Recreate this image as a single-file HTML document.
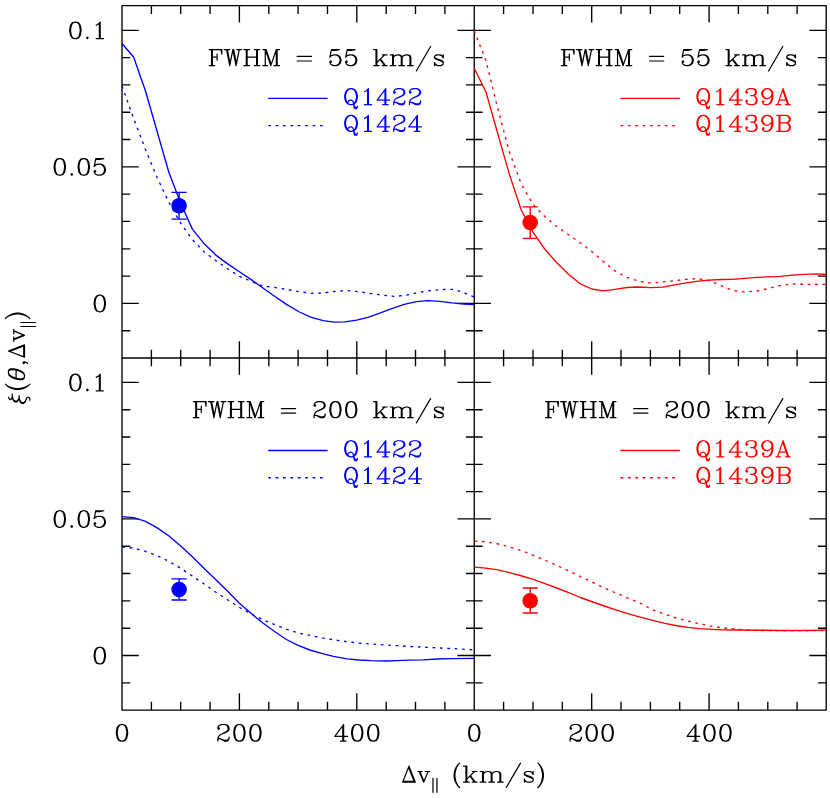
<!DOCTYPE html>
<html lang="en"><head><meta charset="utf-8"><title>Correlation function vs velocity separation</title>
<style>html,body{margin:0;padding:0;background:#fff;font-family:"Liberation Serif",serif;}svg{display:block;}</style></head><body>
<svg width="830" height="798" viewBox="0 0 830 798" role="img" aria-label="Four-panel plot of xi(theta, Delta v parallel) versus Delta v parallel (km/s)">
<desc>Panels: FWHM = 55 km/s (top) and FWHM = 200 km/s (bottom); blue Q1422 solid, Q1424 dotted; red Q1439A solid, Q1439B dotted. Y ticks 0, 0.05, 0.1; X ticks 0, 200, 400. X label: Delta v_parallel (km/s). Y label: xi(theta, Delta v_parallel).</desc>
<rect width="830" height="798" fill="#fff"/>
<path d="M122.0,5.65H826.2V710.1H122.0ZM474.25,5.65V710.1M122.0,358.0H826.2M151.4,5.65v8.3M151.4,349.7v16.6M151.4,710.1v-8.3M180.7,5.65v8.3M180.7,349.7v16.6M180.7,710.1v-8.3M210.1,5.65v8.3M210.1,349.7v16.6M210.1,710.1v-8.3M239.4,5.65v16.8M239.4,341.2v33.6M239.4,710.1v-16.8M268.8,5.65v8.3M268.8,349.7v16.6M268.8,710.1v-8.3M298.1,5.65v8.3M298.1,349.7v16.6M298.1,710.1v-8.3M327.5,5.65v8.3M327.5,349.7v16.6M327.5,710.1v-8.3M356.8,5.65v16.8M356.8,341.2v33.6M356.8,710.1v-16.8M386.2,5.65v8.3M386.2,349.7v16.6M386.2,710.1v-8.3M415.5,5.65v8.3M415.5,349.7v16.6M415.5,710.1v-8.3M444.9,5.65v8.3M444.9,349.7v16.6M444.9,710.1v-8.3M503.6,5.65v8.3M503.6,349.7v16.6M503.6,710.1v-8.3M533.0,5.65v8.3M533.0,349.7v16.6M533.0,710.1v-8.3M562.3,5.65v8.3M562.3,349.7v16.6M562.3,710.1v-8.3M591.7,5.65v16.8M591.7,341.2v33.6M591.7,710.1v-16.8M621.0,5.65v8.3M621.0,349.7v16.6M621.0,710.1v-8.3M650.4,5.65v8.3M650.4,349.7v16.6M650.4,710.1v-8.3M679.7,5.65v8.3M679.7,349.7v16.6M679.7,710.1v-8.3M709.1,5.65v16.8M709.1,341.2v33.6M709.1,710.1v-16.8M738.4,5.65v8.3M738.4,349.7v16.6M738.4,710.1v-8.3M767.8,5.65v8.3M767.8,349.7v16.6M767.8,710.1v-8.3M797.1,5.65v8.3M797.1,349.7v16.6M797.1,710.1v-8.3M122.0,330.7h8.3M465.95,330.7h16.6M826.2,330.7h-8.3M122.0,303.4h16.8M457.45,303.4h33.6M826.2,303.4h-16.8M122.0,276.1h8.3M465.95,276.1h16.6M826.2,276.1h-8.3M122.0,248.8h8.3M465.95,248.8h16.6M826.2,248.8h-8.3M122.0,221.4h8.3M465.95,221.4h16.6M826.2,221.4h-8.3M122.0,194.1h8.3M465.95,194.1h16.6M826.2,194.1h-8.3M122.0,166.8h16.8M457.45,166.8h33.6M826.2,166.8h-16.8M122.0,139.5h8.3M465.95,139.5h16.6M826.2,139.5h-8.3M122.0,112.2h8.3M465.95,112.2h16.6M826.2,112.2h-8.3M122.0,84.9h8.3M465.95,84.9h16.6M826.2,84.9h-8.3M122.0,57.6h8.3M465.95,57.6h16.6M826.2,57.6h-8.3M122.0,30.3h16.8M457.45,30.3h33.6M826.2,30.3h-16.8M122.0,682.8h8.3M465.95,682.8h16.6M826.2,682.8h-8.3M122.0,655.5h16.8M457.45,655.5h33.6M826.2,655.5h-16.8M122.0,628.2h8.3M465.95,628.2h16.6M826.2,628.2h-8.3M122.0,600.9h8.3M465.95,600.9h16.6M826.2,600.9h-8.3M122.0,573.5h8.3M465.95,573.5h16.6M826.2,573.5h-8.3M122.0,546.2h8.3M465.95,546.2h16.6M826.2,546.2h-8.3M122.0,518.9h16.8M457.45,518.9h33.6M826.2,518.9h-16.8M122.0,491.6h8.3M465.95,491.6h16.6M826.2,491.6h-8.3M122.0,464.3h8.3M465.95,464.3h16.6M826.2,464.3h-8.3M122.0,437.0h8.3M465.95,437.0h16.6M826.2,437.0h-8.3M122.0,409.7h8.3M465.95,409.7h16.6M826.2,409.7h-8.3M122.0,382.4h16.8M457.45,382.4h33.6M826.2,382.4h-16.8" fill="none" stroke="#000" stroke-width="1.35" stroke-linecap="butt" stroke-linejoin="round"/>
<polyline points="122.0,43.5 133.6,57.0 145.5,91.0 157.2,131.7 169.0,172.7 180.7,203.2 192.4,229.1 204.2,243.8 215.9,255.1 227.7,263.9 239.4,271.7 251.2,279.6 262.9,288.0 274.6,296.2 286.5,304.4 299.4,312.0 311.4,317.4 323.3,320.7 334.0,322.1 344.8,321.9 356.7,320.2 368.6,317.1 380.5,312.9 392.4,308.3 404.3,304.3 416.2,301.7 428.1,300.7 440.0,301.4 451.9,302.9 463.8,304.0 474.0,304.5" fill="none" stroke="#0000ff" stroke-width="1.35" stroke-linejoin="round"/>
<polyline points="122.0,86.0 133.7,118.5 145.5,149.6 157.2,177.7 169.0,202.6 180.7,223.2 192.4,239.7 204.2,251.9 215.9,260.6 227.7,268.8 239.4,276.3 251.2,281.4 262.9,286.0 274.6,287.4 290.0,290.0 299.5,291.7 311.4,293.3 323.3,292.9 335.2,291.4 347.1,290.5 359.0,291.7 371.0,293.6 382.9,295.2 394.8,296.4 406.7,295.2 418.6,292.4 430.5,290.5 442.4,289.5 451.9,289.3 461.4,291.7 474.0,296.9" fill="none" stroke="#0000ff" stroke-width="1.35" stroke-dasharray="2.7 4.7" stroke-linejoin="round"/>
<polyline points="474.2,68.2 485.9,91.8 497.7,133.5 509.5,174.6 521.2,210.0 533.0,232.1 544.7,249.0 556.4,262.2 568.2,274.0 579.9,283.6 591.7,289.0 603.4,290.9 615.1,289.3 626.9,287.5 638.6,287.0 650.7,287.6 662.6,287.1 674.5,284.8 686.4,282.9 698.3,281.2 709.0,280.2 721.0,279.5 732.9,279.3 744.8,278.3 756.7,277.4 768.6,276.9 780.5,276.4 792.4,275.2 804.3,274.3 816.2,273.8 826.0,274.5" fill="none" stroke="#ff0000" stroke-width="1.35" stroke-linejoin="round"/>
<polyline points="474.2,30.6 485.9,60.6 497.7,108.1 509.5,152.3 521.2,183.8 533.0,204.4 544.7,216.5 556.4,226.3 568.2,234.5 579.9,242.5 591.7,251.4 603.4,261.6 615.1,271.0 626.9,277.4 638.6,281.2 650.7,283.1 662.6,281.9 674.5,280.7 686.4,279.3 697.1,278.6 709.0,280.5 721.0,285.7 732.9,290.5 743.6,291.9 755.5,291.2 767.4,288.8 779.3,285.7 791.2,284.0 804.3,284.3 816.2,284.5 826.0,284.3" fill="none" stroke="#ff0000" stroke-width="1.35" stroke-dasharray="2.7 4.7" stroke-linejoin="round"/>
<polyline points="122.0,516.7 133.7,517.7 145.5,521.4 157.2,527.9 169.0,536.0 180.7,545.9 192.4,556.8 204.2,568.5 215.9,579.8 227.7,591.3 239.4,603.2 251.2,613.5 262.9,623.0 274.6,631.5 286.4,639.5 298.1,645.4 309.9,650.0 321.6,653.3 333.4,656.4 347.1,658.8 359.0,660.0 371.0,660.7 385.2,661.0 397.1,660.7 409.0,660.2 423.3,659.8 437.6,659.0 451.9,658.6 474.0,658.3" fill="none" stroke="#0000ff" stroke-width="1.35" stroke-linejoin="round"/>
<polyline points="122.3,547.2 133.5,548.1 144.8,551.1 157.2,555.6 168.5,561.2 180.9,568.4 192.2,575.9 204.6,584.4 215.9,592.3 228.3,600.2 239.6,607.5 252.0,614.2 263.2,619.9 275.7,625.0 286.9,629.3 299.5,633.3 311.4,635.7 323.3,638.1 335.2,640.0 347.1,641.7 359.0,643.1 371.0,644.0 385.2,645.0 397.1,645.7 409.0,646.4 423.3,647.1 437.6,647.9 451.9,648.6 474.0,649.8" fill="none" stroke="#0000ff" stroke-width="1.35" stroke-dasharray="2.7 4.7" stroke-linejoin="round"/>
<polyline points="474.5,567.2 485.8,568.1 498.2,569.9 509.5,572.6 521.9,576.0 533.2,579.4 545.6,583.9 556.8,588.0 569.3,592.9 580.5,597.5 592.9,602.0 604.2,606.0 616.6,610.1 627.9,613.7 639.2,616.9 651.9,620.2 663.8,623.1 675.7,625.5 687.6,627.4 699.5,628.6 711.4,629.3 723.3,629.8 735.2,630.0 759.0,630.2 782.9,630.5 806.7,630.5 826.0,630.2" fill="none" stroke="#ff0000" stroke-width="1.35" stroke-linejoin="round"/>
<polyline points="474.5,541.1 485.8,541.7 498.2,544.0 509.5,546.9 521.9,550.8 533.2,555.3 545.6,560.5 556.8,565.4 569.3,571.1 580.5,576.7 592.9,582.3 604.2,588.0 616.6,593.2 627.9,598.1 639.2,602.6 651.9,609.5 663.8,613.8 675.7,617.9 687.6,621.0 699.5,623.8 711.4,626.2 723.3,627.9 735.2,629.0 747.1,630.0 759.0,630.5 782.9,630.7 826.0,630.5" fill="none" stroke="#ff0000" stroke-width="1.35" stroke-dasharray="2.7 4.7" stroke-linejoin="round"/>
<path d="M179.1,192.3V219.1M171.5,192.3H186.7M171.5,219.1H186.7" stroke="#0000ff" stroke-width="1.35" fill="none"/>
<circle cx="179.1" cy="205.8" r="7.75" fill="#0000ff"/>
<path d="M530.2,206.9V238.3M522.6,206.9H537.8000000000001M522.6,238.3H537.8000000000001" stroke="#ff0000" stroke-width="1.35" fill="none"/>
<circle cx="530.2" cy="222.5" r="7.75" fill="#ff0000"/>
<path d="M179.1,578.8V600.0M171.5,578.8H186.7M171.5,600.0H186.7" stroke="#0000ff" stroke-width="1.35" fill="none"/>
<circle cx="179.1" cy="589.4" r="7.75" fill="#0000ff"/>
<path d="M530.2,588.0V613.0M522.6,588.0H537.8000000000001M522.6,613.0H537.8000000000001" stroke="#ff0000" stroke-width="1.35" fill="none"/>
<circle cx="530.2" cy="600.8" r="7.75" fill="#ff0000"/>
<path d="M268.2,98.4H327.6" stroke="#0000ff" stroke-width="1.35"/>
<path d="M268.2,125.6H327.0" stroke="#0000ff" stroke-width="1.35" stroke-dasharray="2.7 4.7"/>
<path d="M350.24,88.64 347.87,89.40 346.29,90.93 345.50,92.46 344.71,95.52 344.71,97.81 345.50,100.88 346.29,102.41 347.87,103.94 350.24,104.70 351.82,104.70 354.19,103.94 355.77,102.41 356.56,100.88 357.35,97.81 357.35,95.52 356.56,92.46 355.77,90.93 354.19,89.40 351.82,88.64 350.24,88.64M350.24,88.64 348.66,89.40 347.08,90.93 346.29,92.46 345.50,95.52 345.50,97.81 346.29,100.88 347.08,102.41 348.66,103.94 350.24,104.70M351.82,104.70 353.40,103.94 354.98,102.41 355.77,100.88 356.56,97.81 356.56,95.52 355.77,92.46 354.98,90.93 353.40,89.40 351.82,88.64M347.87,103.17 347.87,102.41 348.66,100.88 350.24,100.11 351.03,100.11 352.61,100.88 353.40,102.41 354.19,107.76 354.98,108.53 356.56,108.53 357.35,107.00 357.35,106.23M353.40,102.41 354.19,105.47 354.98,107.00 355.77,107.76 356.56,107.76 357.35,107.00M364.46,91.70 366.04,90.93 368.41,88.64 368.41,104.70M367.62,89.40 367.62,104.70M364.46,104.70 371.57,104.70M385.00,90.17 385.00,104.70M385.79,88.64 385.79,104.70M385.79,88.64 377.10,100.11 389.74,100.11M382.63,104.70 388.16,104.70M394.48,91.70 395.27,92.46 394.48,93.23 393.69,92.46 393.69,91.70 394.48,90.17 395.27,89.40 397.64,88.64 400.80,88.64 403.17,89.40 403.96,90.17 404.75,91.70 404.75,93.23 403.96,94.75 401.59,96.28 397.64,97.81 396.06,98.58 394.48,100.11 393.69,102.41 393.69,104.70M400.80,88.64 402.38,89.40 403.17,90.17 403.96,91.70 403.96,93.23 403.17,94.75 400.80,96.28 397.64,97.81M393.69,103.17 394.48,102.41 396.06,102.41 400.01,103.94 402.38,103.94 403.96,103.17 404.75,102.41M396.06,102.41 400.01,104.70 403.17,104.70 403.96,103.94 404.75,102.41 404.75,100.88M410.28,91.70 411.07,92.46 410.28,93.23 409.49,92.46 409.49,91.70 410.28,90.17 411.07,89.40 413.44,88.64 416.60,88.64 418.97,89.40 419.76,90.17 420.55,91.70 420.55,93.23 419.76,94.75 417.39,96.28 413.44,97.81 411.86,98.58 410.28,100.11 409.49,102.41 409.49,104.70M416.60,88.64 418.18,89.40 418.97,90.17 419.76,91.70 419.76,93.23 418.97,94.75 416.60,96.28 413.44,97.81M409.49,103.17 410.28,102.41 411.86,102.41 415.81,103.94 418.18,103.94 419.76,103.17 420.55,102.41M411.86,102.41 415.81,104.70 418.97,104.70 419.76,103.94 420.55,102.41 420.55,100.88" fill="none" stroke="#0000ff" stroke-width="1.22" stroke-linecap="round" stroke-linejoin="round"/>
<path d="M350.24,115.34 347.87,116.10 346.29,117.63 345.50,119.16 344.71,122.22 344.71,124.52 345.50,127.58 346.29,129.11 347.87,130.64 350.24,131.40 351.82,131.40 354.19,130.64 355.77,129.11 356.56,127.58 357.35,124.52 357.35,122.22 356.56,119.16 355.77,117.63 354.19,116.10 351.82,115.34 350.24,115.34M350.24,115.34 348.66,116.10 347.08,117.63 346.29,119.16 345.50,122.22 345.50,124.52 346.29,127.58 347.08,129.11 348.66,130.64 350.24,131.40M351.82,131.40 353.40,130.64 354.98,129.11 355.77,127.58 356.56,124.52 356.56,122.22 355.77,119.16 354.98,117.63 353.40,116.10 351.82,115.34M347.87,129.87 347.87,129.11 348.66,127.58 350.24,126.81 351.03,126.81 352.61,127.58 353.40,129.11 354.19,134.46 354.98,135.22 356.56,135.22 357.35,133.69 357.35,132.93M353.40,129.11 354.19,132.16 354.98,133.69 355.77,134.46 356.56,134.46 357.35,133.69M364.46,118.40 366.04,117.63 368.41,115.34 368.41,131.40M367.62,116.10 367.62,131.40M364.46,131.40 371.57,131.40M385.00,116.87 385.00,131.40M385.79,115.34 385.79,131.40M385.79,115.34 377.10,126.81 389.74,126.81M382.63,131.40 388.16,131.40M394.48,118.40 395.27,119.16 394.48,119.93 393.69,119.16 393.69,118.40 394.48,116.87 395.27,116.10 397.64,115.34 400.80,115.34 403.17,116.10 403.96,116.87 404.75,118.40 404.75,119.93 403.96,121.46 401.59,122.98 397.64,124.52 396.06,125.28 394.48,126.81 393.69,129.11 393.69,131.40M400.80,115.34 402.38,116.10 403.17,116.87 403.96,118.40 403.96,119.93 403.17,121.46 400.80,122.98 397.64,124.52M393.69,129.87 394.48,129.11 396.06,129.11 400.01,130.64 402.38,130.64 403.96,129.87 404.75,129.11M396.06,129.11 400.01,131.40 403.17,131.40 403.96,130.64 404.75,129.11 404.75,127.58M416.60,116.87 416.60,131.40M417.39,115.34 417.39,131.40M417.39,115.34 408.70,126.81 421.34,126.81M414.23,131.40 419.76,131.40" fill="none" stroke="#0000ff" stroke-width="1.22" stroke-linecap="round" stroke-linejoin="round"/>
<path d="M211.56,49.53 211.56,65.60M212.35,49.53 212.35,65.60M217.09,54.12 217.09,60.24M209.19,49.53 221.83,49.53 221.83,54.12 221.04,49.53M212.35,57.18 217.09,57.18M209.19,65.60 214.72,65.60M226.57,49.53 229.73,65.60M227.36,49.53 229.73,61.77M232.89,49.53 229.73,65.60M232.89,49.53 236.05,65.60M233.68,49.53 236.05,61.77M239.21,49.53 236.05,65.60M224.20,49.53 229.73,49.53M236.84,49.53 241.58,49.53M246.32,49.53 246.32,65.60M247.11,49.53 247.11,65.60M256.59,49.53 256.59,65.60M257.38,49.53 257.38,65.60M243.95,49.53 249.48,49.53M254.22,49.53 259.75,49.53M247.11,57.18 256.59,57.18M243.95,65.60 249.48,65.60M254.22,65.60 259.75,65.60M265.28,49.53 265.28,65.60M266.07,49.53 270.81,63.30M265.28,49.53 270.81,65.60M276.34,49.53 270.81,65.60M276.34,49.53 276.34,65.60M277.13,49.53 277.13,65.60M262.91,49.53 266.07,49.53M276.34,49.53 279.50,49.53M262.91,65.60 267.65,65.60M273.97,65.60 279.50,65.60M297.20,56.42 311.42,56.42M297.20,61.01 311.42,61.01M331.48,49.53 329.90,57.18M329.90,57.18 331.48,55.65 333.85,54.89 336.22,54.89 338.59,55.65 340.17,57.18 340.96,59.48 340.96,61.01 340.17,63.30 338.59,64.83 336.22,65.60 333.85,65.60 331.48,64.83 330.69,64.07 329.90,62.54 329.90,61.77 330.69,61.01 331.48,61.77 330.69,62.54M336.22,54.89 337.80,55.65 339.38,57.18 340.17,59.48 340.17,61.01 339.38,63.30 337.80,64.83 336.22,65.60M331.48,49.53 339.38,49.53M331.48,50.30 335.43,50.30 339.38,49.53M347.28,49.53 345.70,57.18M345.70,57.18 347.28,55.65 349.65,54.89 352.02,54.89 354.39,55.65 355.97,57.18 356.76,59.48 356.76,61.01 355.97,63.30 354.39,64.83 352.02,65.60 349.65,65.60 347.28,64.83 346.49,64.07 345.70,62.54 345.70,61.77 346.49,61.01 347.28,61.77 346.49,62.54M352.02,54.89 353.60,55.65 355.18,57.18 355.97,59.48 355.97,61.01 355.18,63.30 353.60,64.83 352.02,65.60M347.28,49.53 355.18,49.53M347.28,50.30 351.23,50.30 355.18,49.53M376.04,49.53 376.04,65.60M376.83,49.53 376.83,65.60M384.73,54.89 376.83,62.54M380.78,59.48 385.52,65.60M379.99,59.48 384.73,65.60M373.67,49.53 376.83,49.53M382.36,54.89 387.10,54.89M373.67,65.60 379.20,65.60M382.36,65.60 387.10,65.60M392.63,54.89 392.63,65.60M393.42,54.89 393.42,65.60M393.42,57.18 395.00,55.65 397.37,54.89 398.95,54.89 401.32,55.65 402.11,57.18 402.11,65.60M398.95,54.89 400.53,55.65 401.32,57.18 401.32,65.60M402.11,57.18 403.69,55.65 406.06,54.89 407.64,54.89 410.01,55.65 410.80,57.18 410.80,65.60M407.64,54.89 409.22,55.65 410.01,57.18 410.01,65.60M390.26,54.89 393.42,54.89M390.26,65.60 395.79,65.60M398.95,65.60 404.48,65.60M407.64,65.60 413.17,65.60M430.55,46.47 416.33,70.95M442.40,56.42 443.19,54.89 443.19,57.95 442.40,56.42 441.61,55.65 440.03,54.89 436.87,54.89 435.29,55.65 434.50,56.42 434.50,57.95 435.29,58.71 436.87,59.48 440.82,61.01 442.40,61.77 443.19,62.54M434.50,57.18 435.29,57.95 436.87,58.71 440.82,60.24 442.40,61.01 443.19,61.77 443.19,64.07 442.40,64.83 440.82,65.60 437.66,65.60 436.08,64.83 435.29,64.07 434.50,62.54 434.50,65.60 435.29,64.07" fill="none" stroke="#000" stroke-width="1.22" stroke-linecap="round" stroke-linejoin="round"/>
<path d="M620.5,98.4H679.9" stroke="#ff0000" stroke-width="1.35"/>
<path d="M620.5,125.6H679.2" stroke="#ff0000" stroke-width="1.35" stroke-dasharray="2.7 4.7"/>
<path d="M702.49,88.64 700.12,89.40 698.54,90.93 697.75,92.46 696.96,95.52 696.96,97.81 697.75,100.88 698.54,102.41 700.12,103.94 702.49,104.70 704.07,104.70 706.44,103.94 708.02,102.41 708.81,100.88 709.60,97.81 709.60,95.52 708.81,92.46 708.02,90.93 706.44,89.40 704.07,88.64 702.49,88.64M702.49,88.64 700.91,89.40 699.33,90.93 698.54,92.46 697.75,95.52 697.75,97.81 698.54,100.88 699.33,102.41 700.91,103.94 702.49,104.70M704.07,104.70 705.65,103.94 707.23,102.41 708.02,100.88 708.81,97.81 708.81,95.52 708.02,92.46 707.23,90.93 705.65,89.40 704.07,88.64M700.12,103.17 700.12,102.41 700.91,100.88 702.49,100.11 703.28,100.11 704.86,100.88 705.65,102.41 706.44,107.76 707.23,108.53 708.81,108.53 709.60,107.00 709.60,106.23M705.65,102.41 706.44,105.47 707.23,107.00 708.02,107.76 708.81,107.76 709.60,107.00M716.71,91.70 718.29,90.93 720.66,88.64 720.66,104.70M719.87,89.40 719.87,104.70M716.71,104.70 723.82,104.70M737.25,90.17 737.25,104.70M738.04,88.64 738.04,104.70M738.04,88.64 729.35,100.11 741.99,100.11M734.88,104.70 740.41,104.70M746.73,91.70 747.52,92.46 746.73,93.23 745.94,92.46 745.94,91.70 746.73,90.17 747.52,89.40 749.89,88.64 753.05,88.64 755.42,89.40 756.21,90.93 756.21,93.23 755.42,94.75 753.05,95.52 750.68,95.52M753.05,88.64 754.63,89.40 755.42,90.93 755.42,93.23 754.63,94.75 753.05,95.52M753.05,95.52 754.63,96.28 756.21,97.81 757.00,99.34 757.00,101.64 756.21,103.17 755.42,103.94 753.05,104.70 749.89,104.70 747.52,103.94 746.73,103.17 745.94,101.64 745.94,100.88 746.73,100.11 747.52,100.88 746.73,101.64M755.42,97.05 756.21,99.34 756.21,101.64 755.42,103.17 754.63,103.94 753.05,104.70M772.01,93.99 771.22,96.28 769.64,97.81 767.27,98.58 766.48,98.58 764.11,97.81 762.53,96.28 761.74,93.99 761.74,93.23 762.53,90.93 764.11,89.40 766.48,88.64 768.06,88.64 770.43,89.40 772.01,90.93 772.80,93.23 772.80,97.81 772.01,100.88 771.22,102.41 769.64,103.94 767.27,104.70 764.90,104.70 763.32,103.94 762.53,102.41 762.53,101.64 763.32,100.88 764.11,101.64 763.32,102.41M766.48,98.58 764.90,97.81 763.32,96.28 762.53,93.99 762.53,93.23 763.32,90.93 764.90,89.40 766.48,88.64M768.06,88.64 769.64,89.40 771.22,90.93 772.01,93.23 772.01,97.81 771.22,100.88 770.43,102.41 768.85,103.94 767.27,104.70M783.07,88.64 777.54,104.70M783.07,88.64 788.60,104.70M783.07,90.93 787.81,104.70M779.12,100.11 786.23,100.11M775.96,104.70 780.70,104.70M785.44,104.70 790.18,104.70" fill="none" stroke="#ff0000" stroke-width="1.22" stroke-linecap="round" stroke-linejoin="round"/>
<path d="M702.49,115.34 700.12,116.10 698.54,117.63 697.75,119.16 696.96,122.22 696.96,124.52 697.75,127.58 698.54,129.11 700.12,130.64 702.49,131.40 704.07,131.40 706.44,130.64 708.02,129.11 708.81,127.58 709.60,124.52 709.60,122.22 708.81,119.16 708.02,117.63 706.44,116.10 704.07,115.34 702.49,115.34M702.49,115.34 700.91,116.10 699.33,117.63 698.54,119.16 697.75,122.22 697.75,124.52 698.54,127.58 699.33,129.11 700.91,130.64 702.49,131.40M704.07,131.40 705.65,130.64 707.23,129.11 708.02,127.58 708.81,124.52 708.81,122.22 708.02,119.16 707.23,117.63 705.65,116.10 704.07,115.34M700.12,129.87 700.12,129.11 700.91,127.58 702.49,126.81 703.28,126.81 704.86,127.58 705.65,129.11 706.44,134.46 707.23,135.22 708.81,135.22 709.60,133.69 709.60,132.93M705.65,129.11 706.44,132.16 707.23,133.69 708.02,134.46 708.81,134.46 709.60,133.69M716.71,118.40 718.29,117.63 720.66,115.34 720.66,131.40M719.87,116.10 719.87,131.40M716.71,131.40 723.82,131.40M737.25,116.87 737.25,131.40M738.04,115.34 738.04,131.40M738.04,115.34 729.35,126.81 741.99,126.81M734.88,131.40 740.41,131.40M746.73,118.40 747.52,119.16 746.73,119.93 745.94,119.16 745.94,118.40 746.73,116.87 747.52,116.10 749.89,115.34 753.05,115.34 755.42,116.10 756.21,117.63 756.21,119.93 755.42,121.46 753.05,122.22 750.68,122.22M753.05,115.34 754.63,116.10 755.42,117.63 755.42,119.93 754.63,121.46 753.05,122.22M753.05,122.22 754.63,122.98 756.21,124.52 757.00,126.05 757.00,128.34 756.21,129.87 755.42,130.64 753.05,131.40 749.89,131.40 747.52,130.64 746.73,129.87 745.94,128.34 745.94,127.58 746.73,126.81 747.52,127.58 746.73,128.34M755.42,123.75 756.21,126.05 756.21,128.34 755.42,129.87 754.63,130.64 753.05,131.40M772.01,120.69 771.22,122.98 769.64,124.52 767.27,125.28 766.48,125.28 764.11,124.52 762.53,122.98 761.74,120.69 761.74,119.93 762.53,117.63 764.11,116.10 766.48,115.34 768.06,115.34 770.43,116.10 772.01,117.63 772.80,119.93 772.80,124.52 772.01,127.58 771.22,129.11 769.64,130.64 767.27,131.40 764.90,131.40 763.32,130.64 762.53,129.11 762.53,128.34 763.32,127.58 764.11,128.34 763.32,129.11M766.48,125.28 764.90,124.52 763.32,122.98 762.53,120.69 762.53,119.93 763.32,117.63 764.90,116.10 766.48,115.34M768.06,115.34 769.64,116.10 771.22,117.63 772.01,119.93 772.01,124.52 771.22,127.58 770.43,129.11 768.85,130.64 767.27,131.40M779.12,115.34 779.12,131.40M779.91,115.34 779.91,131.40M776.75,115.34 786.23,115.34 788.60,116.10 789.39,116.87 790.18,118.40 790.18,119.93 789.39,121.46 788.60,122.22 786.23,122.98M786.23,115.34 787.81,116.10 788.60,116.87 789.39,118.40 789.39,119.93 788.60,121.46 787.81,122.22 786.23,122.98M779.91,122.98 786.23,122.98 788.60,123.75 789.39,124.52 790.18,126.05 790.18,128.34 789.39,129.87 788.60,130.64 786.23,131.40 776.75,131.40M786.23,122.98 787.81,123.75 788.60,124.52 789.39,126.05 789.39,128.34 788.60,129.87 787.81,130.64 786.23,131.40" fill="none" stroke="#ff0000" stroke-width="1.22" stroke-linecap="round" stroke-linejoin="round"/>
<path d="M563.81,49.53 563.81,65.60M564.60,49.53 564.60,65.60M569.34,54.12 569.34,60.24M561.44,49.53 574.08,49.53 574.08,54.12 573.29,49.53M564.60,57.18 569.34,57.18M561.44,65.60 566.97,65.60M578.82,49.53 581.98,65.60M579.61,49.53 581.98,61.77M585.14,49.53 581.98,65.60M585.14,49.53 588.30,65.60M585.93,49.53 588.30,61.77M591.46,49.53 588.30,65.60M576.45,49.53 581.98,49.53M589.09,49.53 593.83,49.53M598.57,49.53 598.57,65.60M599.36,49.53 599.36,65.60M608.84,49.53 608.84,65.60M609.63,49.53 609.63,65.60M596.20,49.53 601.73,49.53M606.47,49.53 612.00,49.53M599.36,57.18 608.84,57.18M596.20,65.60 601.73,65.60M606.47,65.60 612.00,65.60M617.53,49.53 617.53,65.60M618.32,49.53 623.06,63.30M617.53,49.53 623.06,65.60M628.59,49.53 623.06,65.60M628.59,49.53 628.59,65.60M629.38,49.53 629.38,65.60M615.16,49.53 618.32,49.53M628.59,49.53 631.75,49.53M615.16,65.60 619.90,65.60M626.22,65.60 631.75,65.60M649.45,56.42 663.67,56.42M649.45,61.01 663.67,61.01M683.73,49.53 682.15,57.18M682.15,57.18 683.73,55.65 686.10,54.89 688.47,54.89 690.84,55.65 692.42,57.18 693.21,59.48 693.21,61.01 692.42,63.30 690.84,64.83 688.47,65.60 686.10,65.60 683.73,64.83 682.94,64.07 682.15,62.54 682.15,61.77 682.94,61.01 683.73,61.77 682.94,62.54M688.47,54.89 690.05,55.65 691.63,57.18 692.42,59.48 692.42,61.01 691.63,63.30 690.05,64.83 688.47,65.60M683.73,49.53 691.63,49.53M683.73,50.30 687.68,50.30 691.63,49.53M699.53,49.53 697.95,57.18M697.95,57.18 699.53,55.65 701.90,54.89 704.27,54.89 706.64,55.65 708.22,57.18 709.01,59.48 709.01,61.01 708.22,63.30 706.64,64.83 704.27,65.60 701.90,65.60 699.53,64.83 698.74,64.07 697.95,62.54 697.95,61.77 698.74,61.01 699.53,61.77 698.74,62.54M704.27,54.89 705.85,55.65 707.43,57.18 708.22,59.48 708.22,61.01 707.43,63.30 705.85,64.83 704.27,65.60M699.53,49.53 707.43,49.53M699.53,50.30 703.48,50.30 707.43,49.53M728.29,49.53 728.29,65.60M729.08,49.53 729.08,65.60M736.98,54.89 729.08,62.54M733.03,59.48 737.77,65.60M732.24,59.48 736.98,65.60M725.92,49.53 729.08,49.53M734.61,54.89 739.35,54.89M725.92,65.60 731.45,65.60M734.61,65.60 739.35,65.60M744.88,54.89 744.88,65.60M745.67,54.89 745.67,65.60M745.67,57.18 747.25,55.65 749.62,54.89 751.20,54.89 753.57,55.65 754.36,57.18 754.36,65.60M751.20,54.89 752.78,55.65 753.57,57.18 753.57,65.60M754.36,57.18 755.94,55.65 758.31,54.89 759.89,54.89 762.26,55.65 763.05,57.18 763.05,65.60M759.89,54.89 761.47,55.65 762.26,57.18 762.26,65.60M742.51,54.89 745.67,54.89M742.51,65.60 748.04,65.60M751.20,65.60 756.73,65.60M759.89,65.60 765.42,65.60M782.80,46.47 768.58,70.95M794.65,56.42 795.44,54.89 795.44,57.95 794.65,56.42 793.86,55.65 792.28,54.89 789.12,54.89 787.54,55.65 786.75,56.42 786.75,57.95 787.54,58.71 789.12,59.48 793.07,61.01 794.65,61.77 795.44,62.54M786.75,57.18 787.54,57.95 789.12,58.71 793.07,60.24 794.65,61.01 795.44,61.77 795.44,64.07 794.65,64.83 793.07,65.60 789.91,65.60 788.33,64.83 787.54,64.07 786.75,62.54 786.75,65.60 787.54,64.07" fill="none" stroke="#000" stroke-width="1.22" stroke-linecap="round" stroke-linejoin="round"/>
<path d="M268.2,450.5H327.6" stroke="#0000ff" stroke-width="1.35"/>
<path d="M268.2,477.7H327.0" stroke="#0000ff" stroke-width="1.35" stroke-dasharray="2.7 4.7"/>
<path d="M350.24,440.74 347.87,441.50 346.29,443.03 345.50,444.56 344.71,447.62 344.71,449.92 345.50,452.98 346.29,454.50 347.87,456.04 350.24,456.80 351.82,456.80 354.19,456.04 355.77,454.50 356.56,452.98 357.35,449.92 357.35,447.62 356.56,444.56 355.77,443.03 354.19,441.50 351.82,440.74 350.24,440.74M350.24,440.74 348.66,441.50 347.08,443.03 346.29,444.56 345.50,447.62 345.50,449.92 346.29,452.98 347.08,454.50 348.66,456.04 350.24,456.80M351.82,456.80 353.40,456.04 354.98,454.50 355.77,452.98 356.56,449.92 356.56,447.62 355.77,444.56 354.98,443.03 353.40,441.50 351.82,440.74M347.87,455.27 347.87,454.50 348.66,452.98 350.24,452.21 351.03,452.21 352.61,452.98 353.40,454.50 354.19,459.86 354.98,460.62 356.56,460.62 357.35,459.10 357.35,458.33M353.40,454.50 354.19,457.56 354.98,459.10 355.77,459.86 356.56,459.86 357.35,459.10M364.46,443.80 366.04,443.03 368.41,440.74 368.41,456.80M367.62,441.50 367.62,456.80M364.46,456.80 371.57,456.80M385.00,442.26 385.00,456.80M385.79,440.74 385.79,456.80M385.79,440.74 377.10,452.21 389.74,452.21M382.63,456.80 388.16,456.80M394.48,443.80 395.27,444.56 394.48,445.32 393.69,444.56 393.69,443.80 394.48,442.26 395.27,441.50 397.64,440.74 400.80,440.74 403.17,441.50 403.96,442.26 404.75,443.80 404.75,445.32 403.96,446.86 401.59,448.38 397.64,449.92 396.06,450.68 394.48,452.21 393.69,454.50 393.69,456.80M400.80,440.74 402.38,441.50 403.17,442.26 403.96,443.80 403.96,445.32 403.17,446.86 400.80,448.38 397.64,449.92M393.69,455.27 394.48,454.50 396.06,454.50 400.01,456.04 402.38,456.04 403.96,455.27 404.75,454.50M396.06,454.50 400.01,456.80 403.17,456.80 403.96,456.04 404.75,454.50 404.75,452.98M410.28,443.80 411.07,444.56 410.28,445.32 409.49,444.56 409.49,443.80 410.28,442.26 411.07,441.50 413.44,440.74 416.60,440.74 418.97,441.50 419.76,442.26 420.55,443.80 420.55,445.32 419.76,446.86 417.39,448.38 413.44,449.92 411.86,450.68 410.28,452.21 409.49,454.50 409.49,456.80M416.60,440.74 418.18,441.50 418.97,442.26 419.76,443.80 419.76,445.32 418.97,446.86 416.60,448.38 413.44,449.92M409.49,455.27 410.28,454.50 411.86,454.50 415.81,456.04 418.18,456.04 419.76,455.27 420.55,454.50M411.86,454.50 415.81,456.80 418.97,456.80 419.76,456.04 420.55,454.50 420.55,452.98" fill="none" stroke="#0000ff" stroke-width="1.22" stroke-linecap="round" stroke-linejoin="round"/>
<path d="M350.24,467.44 347.87,468.20 346.29,469.73 345.50,471.26 344.71,474.32 344.71,476.62 345.50,479.68 346.29,481.20 347.87,482.74 350.24,483.50 351.82,483.50 354.19,482.74 355.77,481.20 356.56,479.68 357.35,476.62 357.35,474.32 356.56,471.26 355.77,469.73 354.19,468.20 351.82,467.44 350.24,467.44M350.24,467.44 348.66,468.20 347.08,469.73 346.29,471.26 345.50,474.32 345.50,476.62 346.29,479.68 347.08,481.20 348.66,482.74 350.24,483.50M351.82,483.50 353.40,482.74 354.98,481.20 355.77,479.68 356.56,476.62 356.56,474.32 355.77,471.26 354.98,469.73 353.40,468.20 351.82,467.44M347.87,481.97 347.87,481.20 348.66,479.68 350.24,478.91 351.03,478.91 352.61,479.68 353.40,481.20 354.19,486.56 354.98,487.32 356.56,487.32 357.35,485.80 357.35,485.03M353.40,481.20 354.19,484.26 354.98,485.80 355.77,486.56 356.56,486.56 357.35,485.80M364.46,470.50 366.04,469.73 368.41,467.44 368.41,483.50M367.62,468.20 367.62,483.50M364.46,483.50 371.57,483.50M385.00,468.96 385.00,483.50M385.79,467.44 385.79,483.50M385.79,467.44 377.10,478.91 389.74,478.91M382.63,483.50 388.16,483.50M394.48,470.50 395.27,471.26 394.48,472.02 393.69,471.26 393.69,470.50 394.48,468.96 395.27,468.20 397.64,467.44 400.80,467.44 403.17,468.20 403.96,468.96 404.75,470.50 404.75,472.02 403.96,473.56 401.59,475.08 397.64,476.62 396.06,477.38 394.48,478.91 393.69,481.20 393.69,483.50M400.80,467.44 402.38,468.20 403.17,468.96 403.96,470.50 403.96,472.02 403.17,473.56 400.80,475.08 397.64,476.62M393.69,481.97 394.48,481.20 396.06,481.20 400.01,482.74 402.38,482.74 403.96,481.97 404.75,481.20M396.06,481.20 400.01,483.50 403.17,483.50 403.96,482.74 404.75,481.20 404.75,479.68M416.60,468.96 416.60,483.50M417.39,467.44 417.39,483.50M417.39,467.44 408.70,478.91 421.34,478.91M414.23,483.50 419.76,483.50" fill="none" stroke="#0000ff" stroke-width="1.22" stroke-linecap="round" stroke-linejoin="round"/>
<path d="M195.76,401.64 195.76,417.70M196.55,401.64 196.55,417.70M201.29,406.23 201.29,412.35M193.39,401.64 206.03,401.64 206.03,406.23 205.24,401.64M196.55,409.29 201.29,409.29M193.39,417.70 198.92,417.70M210.77,401.64 213.93,417.70M211.56,401.64 213.93,413.88M217.09,401.64 213.93,417.70M217.09,401.64 220.25,417.70M217.88,401.64 220.25,413.88M223.41,401.64 220.25,417.70M208.40,401.64 213.93,401.64M221.04,401.64 225.78,401.64M230.52,401.64 230.52,417.70M231.31,401.64 231.31,417.70M240.79,401.64 240.79,417.70M241.58,401.64 241.58,417.70M228.15,401.64 233.68,401.64M238.42,401.64 243.95,401.64M231.31,409.29 240.79,409.29M228.15,417.70 233.68,417.70M238.42,417.70 243.95,417.70M249.48,401.64 249.48,417.70M250.27,401.64 255.01,415.41M249.48,401.64 255.01,417.70M260.54,401.64 255.01,417.70M260.54,401.64 260.54,417.70M261.33,401.64 261.33,417.70M247.11,401.64 250.27,401.64M260.54,401.64 263.70,401.64M247.11,417.70 251.85,417.70M258.17,417.70 263.70,417.70M281.40,408.52 295.62,408.52M281.40,413.11 295.62,413.11M314.89,404.70 315.68,405.46 314.89,406.23 314.10,405.46 314.10,404.70 314.89,403.17 315.68,402.40 318.05,401.64 321.21,401.64 323.58,402.40 324.37,403.17 325.16,404.70 325.16,406.23 324.37,407.76 322.00,409.29 318.05,410.82 316.47,411.58 314.89,413.11 314.10,415.41 314.10,417.70M321.21,401.64 322.79,402.40 323.58,403.17 324.37,404.70 324.37,406.23 323.58,407.76 321.21,409.29 318.05,410.82M314.10,416.17 314.89,415.41 316.47,415.41 320.42,416.94 322.79,416.94 324.37,416.17 325.16,415.41M316.47,415.41 320.42,417.70 323.58,417.70 324.37,416.94 325.16,415.41 325.16,413.88M334.64,401.64 332.27,402.40 330.69,404.70 329.90,408.52 329.90,410.82 330.69,414.64 332.27,416.94 334.64,417.70 336.22,417.70 338.59,416.94 340.17,414.64 340.96,410.82 340.96,408.52 340.17,404.70 338.59,402.40 336.22,401.64 334.64,401.64M334.64,401.64 333.06,402.40 332.27,403.17 331.48,404.70 330.69,408.52 330.69,410.82 331.48,414.64 332.27,416.17 333.06,416.94 334.64,417.70M336.22,417.70 337.80,416.94 338.59,416.17 339.38,414.64 340.17,410.82 340.17,408.52 339.38,404.70 338.59,403.17 337.80,402.40 336.22,401.64M350.44,401.64 348.07,402.40 346.49,404.70 345.70,408.52 345.70,410.82 346.49,414.64 348.07,416.94 350.44,417.70 352.02,417.70 354.39,416.94 355.97,414.64 356.76,410.82 356.76,408.52 355.97,404.70 354.39,402.40 352.02,401.64 350.44,401.64M350.44,401.64 348.86,402.40 348.07,403.17 347.28,404.70 346.49,408.52 346.49,410.82 347.28,414.64 348.07,416.17 348.86,416.94 350.44,417.70M352.02,417.70 353.60,416.94 354.39,416.17 355.18,414.64 355.97,410.82 355.97,408.52 355.18,404.70 354.39,403.17 353.60,402.40 352.02,401.64M376.04,401.64 376.04,417.70M376.83,401.64 376.83,417.70M384.73,406.99 376.83,414.64M380.78,411.58 385.52,417.70M379.99,411.58 384.73,417.70M373.67,401.64 376.83,401.64M382.36,406.99 387.10,406.99M373.67,417.70 379.20,417.70M382.36,417.70 387.10,417.70M392.63,406.99 392.63,417.70M393.42,406.99 393.42,417.70M393.42,409.29 395.00,407.76 397.37,406.99 398.95,406.99 401.32,407.76 402.11,409.29 402.11,417.70M398.95,406.99 400.53,407.76 401.32,409.29 401.32,417.70M402.11,409.29 403.69,407.76 406.06,406.99 407.64,406.99 410.01,407.76 410.80,409.29 410.80,417.70M407.64,406.99 409.22,407.76 410.01,409.29 410.01,417.70M390.26,406.99 393.42,406.99M390.26,417.70 395.79,417.70M398.95,417.70 404.48,417.70M407.64,417.70 413.17,417.70M430.55,398.58 416.33,423.06M442.40,408.52 443.19,406.99 443.19,410.05 442.40,408.52 441.61,407.76 440.03,406.99 436.87,406.99 435.29,407.76 434.50,408.52 434.50,410.05 435.29,410.82 436.87,411.58 440.82,413.11 442.40,413.88 443.19,414.64M434.50,409.29 435.29,410.05 436.87,410.82 440.82,412.35 442.40,413.11 443.19,413.88 443.19,416.17 442.40,416.94 440.82,417.70 437.66,417.70 436.08,416.94 435.29,416.17 434.50,414.64 434.50,417.70 435.29,416.17" fill="none" stroke="#000" stroke-width="1.22" stroke-linecap="round" stroke-linejoin="round"/>
<path d="M620.5,450.5H679.9" stroke="#ff0000" stroke-width="1.35"/>
<path d="M620.5,477.7H679.2" stroke="#ff0000" stroke-width="1.35" stroke-dasharray="2.7 4.7"/>
<path d="M702.49,440.74 700.12,441.50 698.54,443.03 697.75,444.56 696.96,447.62 696.96,449.92 697.75,452.98 698.54,454.50 700.12,456.04 702.49,456.80 704.07,456.80 706.44,456.04 708.02,454.50 708.81,452.98 709.60,449.92 709.60,447.62 708.81,444.56 708.02,443.03 706.44,441.50 704.07,440.74 702.49,440.74M702.49,440.74 700.91,441.50 699.33,443.03 698.54,444.56 697.75,447.62 697.75,449.92 698.54,452.98 699.33,454.50 700.91,456.04 702.49,456.80M704.07,456.80 705.65,456.04 707.23,454.50 708.02,452.98 708.81,449.92 708.81,447.62 708.02,444.56 707.23,443.03 705.65,441.50 704.07,440.74M700.12,455.27 700.12,454.50 700.91,452.98 702.49,452.21 703.28,452.21 704.86,452.98 705.65,454.50 706.44,459.86 707.23,460.62 708.81,460.62 709.60,459.10 709.60,458.33M705.65,454.50 706.44,457.56 707.23,459.10 708.02,459.86 708.81,459.86 709.60,459.10M716.71,443.80 718.29,443.03 720.66,440.74 720.66,456.80M719.87,441.50 719.87,456.80M716.71,456.80 723.82,456.80M737.25,442.26 737.25,456.80M738.04,440.74 738.04,456.80M738.04,440.74 729.35,452.21 741.99,452.21M734.88,456.80 740.41,456.80M746.73,443.80 747.52,444.56 746.73,445.32 745.94,444.56 745.94,443.80 746.73,442.26 747.52,441.50 749.89,440.74 753.05,440.74 755.42,441.50 756.21,443.03 756.21,445.32 755.42,446.86 753.05,447.62 750.68,447.62M753.05,440.74 754.63,441.50 755.42,443.03 755.42,445.32 754.63,446.86 753.05,447.62M753.05,447.62 754.63,448.38 756.21,449.92 757.00,451.44 757.00,453.74 756.21,455.27 755.42,456.04 753.05,456.80 749.89,456.80 747.52,456.04 746.73,455.27 745.94,453.74 745.94,452.98 746.73,452.21 747.52,452.98 746.73,453.74M755.42,449.15 756.21,451.44 756.21,453.74 755.42,455.27 754.63,456.04 753.05,456.80M772.01,446.09 771.22,448.38 769.64,449.92 767.27,450.68 766.48,450.68 764.11,449.92 762.53,448.38 761.74,446.09 761.74,445.32 762.53,443.03 764.11,441.50 766.48,440.74 768.06,440.74 770.43,441.50 772.01,443.03 772.80,445.32 772.80,449.92 772.01,452.98 771.22,454.50 769.64,456.04 767.27,456.80 764.90,456.80 763.32,456.04 762.53,454.50 762.53,453.74 763.32,452.98 764.11,453.74 763.32,454.50M766.48,450.68 764.90,449.92 763.32,448.38 762.53,446.09 762.53,445.32 763.32,443.03 764.90,441.50 766.48,440.74M768.06,440.74 769.64,441.50 771.22,443.03 772.01,445.32 772.01,449.92 771.22,452.98 770.43,454.50 768.85,456.04 767.27,456.80M783.07,440.74 777.54,456.80M783.07,440.74 788.60,456.80M783.07,443.03 787.81,456.80M779.12,452.21 786.23,452.21M775.96,456.80 780.70,456.80M785.44,456.80 790.18,456.80" fill="none" stroke="#ff0000" stroke-width="1.22" stroke-linecap="round" stroke-linejoin="round"/>
<path d="M702.49,467.44 700.12,468.20 698.54,469.73 697.75,471.26 696.96,474.32 696.96,476.62 697.75,479.68 698.54,481.20 700.12,482.74 702.49,483.50 704.07,483.50 706.44,482.74 708.02,481.20 708.81,479.68 709.60,476.62 709.60,474.32 708.81,471.26 708.02,469.73 706.44,468.20 704.07,467.44 702.49,467.44M702.49,467.44 700.91,468.20 699.33,469.73 698.54,471.26 697.75,474.32 697.75,476.62 698.54,479.68 699.33,481.20 700.91,482.74 702.49,483.50M704.07,483.50 705.65,482.74 707.23,481.20 708.02,479.68 708.81,476.62 708.81,474.32 708.02,471.26 707.23,469.73 705.65,468.20 704.07,467.44M700.12,481.97 700.12,481.20 700.91,479.68 702.49,478.91 703.28,478.91 704.86,479.68 705.65,481.20 706.44,486.56 707.23,487.32 708.81,487.32 709.60,485.80 709.60,485.03M705.65,481.20 706.44,484.26 707.23,485.80 708.02,486.56 708.81,486.56 709.60,485.80M716.71,470.50 718.29,469.73 720.66,467.44 720.66,483.50M719.87,468.20 719.87,483.50M716.71,483.50 723.82,483.50M737.25,468.96 737.25,483.50M738.04,467.44 738.04,483.50M738.04,467.44 729.35,478.91 741.99,478.91M734.88,483.50 740.41,483.50M746.73,470.50 747.52,471.26 746.73,472.02 745.94,471.26 745.94,470.50 746.73,468.96 747.52,468.20 749.89,467.44 753.05,467.44 755.42,468.20 756.21,469.73 756.21,472.02 755.42,473.56 753.05,474.32 750.68,474.32M753.05,467.44 754.63,468.20 755.42,469.73 755.42,472.02 754.63,473.56 753.05,474.32M753.05,474.32 754.63,475.08 756.21,476.62 757.00,478.14 757.00,480.44 756.21,481.97 755.42,482.74 753.05,483.50 749.89,483.50 747.52,482.74 746.73,481.97 745.94,480.44 745.94,479.68 746.73,478.91 747.52,479.68 746.73,480.44M755.42,475.85 756.21,478.14 756.21,480.44 755.42,481.97 754.63,482.74 753.05,483.50M772.01,472.79 771.22,475.08 769.64,476.62 767.27,477.38 766.48,477.38 764.11,476.62 762.53,475.08 761.74,472.79 761.74,472.02 762.53,469.73 764.11,468.20 766.48,467.44 768.06,467.44 770.43,468.20 772.01,469.73 772.80,472.02 772.80,476.62 772.01,479.68 771.22,481.20 769.64,482.74 767.27,483.50 764.90,483.50 763.32,482.74 762.53,481.20 762.53,480.44 763.32,479.68 764.11,480.44 763.32,481.20M766.48,477.38 764.90,476.62 763.32,475.08 762.53,472.79 762.53,472.02 763.32,469.73 764.90,468.20 766.48,467.44M768.06,467.44 769.64,468.20 771.22,469.73 772.01,472.02 772.01,476.62 771.22,479.68 770.43,481.20 768.85,482.74 767.27,483.50M779.12,467.44 779.12,483.50M779.91,467.44 779.91,483.50M776.75,467.44 786.23,467.44 788.60,468.20 789.39,468.96 790.18,470.50 790.18,472.02 789.39,473.56 788.60,474.32 786.23,475.08M786.23,467.44 787.81,468.20 788.60,468.96 789.39,470.50 789.39,472.02 788.60,473.56 787.81,474.32 786.23,475.08M779.91,475.08 786.23,475.08 788.60,475.85 789.39,476.62 790.18,478.14 790.18,480.44 789.39,481.97 788.60,482.74 786.23,483.50 776.75,483.50M786.23,475.08 787.81,475.85 788.60,476.62 789.39,478.14 789.39,480.44 788.60,481.97 787.81,482.74 786.23,483.50" fill="none" stroke="#ff0000" stroke-width="1.22" stroke-linecap="round" stroke-linejoin="round"/>
<path d="M548.01,401.64 548.01,417.70M548.80,401.64 548.80,417.70M553.54,406.23 553.54,412.35M545.64,401.64 558.28,401.64 558.28,406.23 557.49,401.64M548.80,409.29 553.54,409.29M545.64,417.70 551.17,417.70M563.02,401.64 566.18,417.70M563.81,401.64 566.18,413.88M569.34,401.64 566.18,417.70M569.34,401.64 572.50,417.70M570.13,401.64 572.50,413.88M575.66,401.64 572.50,417.70M560.65,401.64 566.18,401.64M573.29,401.64 578.03,401.64M582.77,401.64 582.77,417.70M583.56,401.64 583.56,417.70M593.04,401.64 593.04,417.70M593.83,401.64 593.83,417.70M580.40,401.64 585.93,401.64M590.67,401.64 596.20,401.64M583.56,409.29 593.04,409.29M580.40,417.70 585.93,417.70M590.67,417.70 596.20,417.70M601.73,401.64 601.73,417.70M602.52,401.64 607.26,415.41M601.73,401.64 607.26,417.70M612.79,401.64 607.26,417.70M612.79,401.64 612.79,417.70M613.58,401.64 613.58,417.70M599.36,401.64 602.52,401.64M612.79,401.64 615.95,401.64M599.36,417.70 604.10,417.70M610.42,417.70 615.95,417.70M633.65,408.52 647.87,408.52M633.65,413.11 647.87,413.11M667.14,404.70 667.93,405.46 667.14,406.23 666.35,405.46 666.35,404.70 667.14,403.17 667.93,402.40 670.30,401.64 673.46,401.64 675.83,402.40 676.62,403.17 677.41,404.70 677.41,406.23 676.62,407.76 674.25,409.29 670.30,410.82 668.72,411.58 667.14,413.11 666.35,415.41 666.35,417.70M673.46,401.64 675.04,402.40 675.83,403.17 676.62,404.70 676.62,406.23 675.83,407.76 673.46,409.29 670.30,410.82M666.35,416.17 667.14,415.41 668.72,415.41 672.67,416.94 675.04,416.94 676.62,416.17 677.41,415.41M668.72,415.41 672.67,417.70 675.83,417.70 676.62,416.94 677.41,415.41 677.41,413.88M686.89,401.64 684.52,402.40 682.94,404.70 682.15,408.52 682.15,410.82 682.94,414.64 684.52,416.94 686.89,417.70 688.47,417.70 690.84,416.94 692.42,414.64 693.21,410.82 693.21,408.52 692.42,404.70 690.84,402.40 688.47,401.64 686.89,401.64M686.89,401.64 685.31,402.40 684.52,403.17 683.73,404.70 682.94,408.52 682.94,410.82 683.73,414.64 684.52,416.17 685.31,416.94 686.89,417.70M688.47,417.70 690.05,416.94 690.84,416.17 691.63,414.64 692.42,410.82 692.42,408.52 691.63,404.70 690.84,403.17 690.05,402.40 688.47,401.64M702.69,401.64 700.32,402.40 698.74,404.70 697.95,408.52 697.95,410.82 698.74,414.64 700.32,416.94 702.69,417.70 704.27,417.70 706.64,416.94 708.22,414.64 709.01,410.82 709.01,408.52 708.22,404.70 706.64,402.40 704.27,401.64 702.69,401.64M702.69,401.64 701.11,402.40 700.32,403.17 699.53,404.70 698.74,408.52 698.74,410.82 699.53,414.64 700.32,416.17 701.11,416.94 702.69,417.70M704.27,417.70 705.85,416.94 706.64,416.17 707.43,414.64 708.22,410.82 708.22,408.52 707.43,404.70 706.64,403.17 705.85,402.40 704.27,401.64M728.29,401.64 728.29,417.70M729.08,401.64 729.08,417.70M736.98,406.99 729.08,414.64M733.03,411.58 737.77,417.70M732.24,411.58 736.98,417.70M725.92,401.64 729.08,401.64M734.61,406.99 739.35,406.99M725.92,417.70 731.45,417.70M734.61,417.70 739.35,417.70M744.88,406.99 744.88,417.70M745.67,406.99 745.67,417.70M745.67,409.29 747.25,407.76 749.62,406.99 751.20,406.99 753.57,407.76 754.36,409.29 754.36,417.70M751.20,406.99 752.78,407.76 753.57,409.29 753.57,417.70M754.36,409.29 755.94,407.76 758.31,406.99 759.89,406.99 762.26,407.76 763.05,409.29 763.05,417.70M759.89,406.99 761.47,407.76 762.26,409.29 762.26,417.70M742.51,406.99 745.67,406.99M742.51,417.70 748.04,417.70M751.20,417.70 756.73,417.70M759.89,417.70 765.42,417.70M782.80,398.58 768.58,423.06M794.65,408.52 795.44,406.99 795.44,410.05 794.65,408.52 793.86,407.76 792.28,406.99 789.12,406.99 787.54,407.76 786.75,408.52 786.75,410.05 787.54,410.82 789.12,411.58 793.07,413.11 794.65,413.88 795.44,414.64M786.75,409.29 787.54,410.05 789.12,410.82 793.07,412.35 794.65,413.11 795.44,413.88 795.44,416.17 794.65,416.94 793.07,417.70 789.91,417.70 788.33,416.94 787.54,416.17 786.75,414.64 786.75,417.70 787.54,416.17" fill="none" stroke="#000" stroke-width="1.22" stroke-linecap="round" stroke-linejoin="round"/>
<path d="M74.59,22.08 72.19,22.87 70.59,25.24 69.79,29.19 69.79,31.56 70.59,35.51 72.19,37.88 74.59,38.67 76.19,38.67 78.59,37.88 80.19,35.51 80.99,31.56 80.99,29.19 80.19,25.24 78.59,22.87 76.19,22.08 74.59,22.08M74.59,22.08 72.99,22.87 72.19,23.66 71.39,25.24 70.59,29.19 70.59,31.56 71.39,35.51 72.19,37.09 72.99,37.88 74.59,38.67M76.19,38.67 77.79,37.88 78.59,37.09 79.39,35.51 80.19,31.56 80.19,29.19 79.39,25.24 78.59,23.66 77.79,22.87 76.19,22.08M87.39,37.09 86.59,37.88 87.39,38.67 88.19,37.88 87.39,37.09M96.19,25.24 97.79,24.45 100.19,22.08 100.19,38.67M99.39,22.87 99.39,38.67M96.19,38.67 103.39,38.67" fill="none" stroke="#000" stroke-width="1.22" stroke-linecap="round" stroke-linejoin="round"/>
<path d="M58.99,158.63 56.59,159.42 54.99,161.79 54.19,165.74 54.19,168.11 54.99,172.06 56.59,174.43 58.99,175.22 60.59,175.22 62.99,174.43 64.59,172.06 65.39,168.11 65.39,165.74 64.59,161.79 62.99,159.42 60.59,158.63 58.99,158.63M58.99,158.63 57.39,159.42 56.59,160.21 55.79,161.79 54.99,165.74 54.99,168.11 55.79,172.06 56.59,173.64 57.39,174.43 58.99,175.22M60.59,175.22 62.19,174.43 62.99,173.64 63.79,172.06 64.59,168.11 64.59,165.74 63.79,161.79 62.99,160.21 62.19,159.42 60.59,158.63M71.79,173.64 70.99,174.43 71.79,175.22 72.59,174.43 71.79,173.64M82.99,158.63 80.59,159.42 78.99,161.79 78.19,165.74 78.19,168.11 78.99,172.06 80.59,174.43 82.99,175.22 84.59,175.22 86.99,174.43 88.59,172.06 89.39,168.11 89.39,165.74 88.59,161.79 86.99,159.42 84.59,158.63 82.99,158.63M82.99,158.63 81.39,159.42 80.59,160.21 79.79,161.79 78.99,165.74 78.99,168.11 79.79,172.06 80.59,173.64 81.39,174.43 82.99,175.22M84.59,175.22 86.19,174.43 86.99,173.64 87.79,172.06 88.59,168.11 88.59,165.74 87.79,161.79 86.99,160.21 86.19,159.42 84.59,158.63M95.79,158.63 94.19,166.53M94.19,166.53 95.79,164.95 98.19,164.16 100.59,164.16 102.99,164.95 104.59,166.53 105.39,168.90 105.39,170.48 104.59,172.85 102.99,174.43 100.59,175.22 98.19,175.22 95.79,174.43 94.99,173.64 94.19,172.06 94.19,171.27 94.99,170.48 95.79,171.27 94.99,172.06M100.59,164.16 102.19,164.95 103.79,166.53 104.59,168.90 104.59,170.48 103.79,172.85 102.19,174.43 100.59,175.22M95.79,158.63 103.79,158.63M95.79,159.42 99.79,159.42 103.79,158.63" fill="none" stroke="#000" stroke-width="1.22" stroke-linecap="round" stroke-linejoin="round"/>
<path d="M98.99,295.19 96.59,295.98 94.99,298.35 94.19,302.30 94.19,304.67 94.99,308.62 96.59,310.99 98.99,311.78 100.59,311.78 102.99,310.99 104.59,308.62 105.39,304.67 105.39,302.30 104.59,298.35 102.99,295.98 100.59,295.19 98.99,295.19M98.99,295.19 97.39,295.98 96.59,296.77 95.79,298.35 94.99,302.30 94.99,304.67 95.79,308.62 96.59,310.20 97.39,310.99 98.99,311.78M100.59,311.78 102.19,310.99 102.99,310.20 103.79,308.62 104.59,304.67 104.59,302.30 103.79,298.35 102.99,296.77 102.19,295.98 100.59,295.19" fill="none" stroke="#000" stroke-width="1.22" stroke-linecap="round" stroke-linejoin="round"/>
<path d="M74.59,374.19 72.19,374.98 70.59,377.35 69.79,381.30 69.79,383.67 70.59,387.62 72.19,389.99 74.59,390.78 76.19,390.78 78.59,389.99 80.19,387.62 80.99,383.67 80.99,381.30 80.19,377.35 78.59,374.98 76.19,374.19 74.59,374.19M74.59,374.19 72.99,374.98 72.19,375.77 71.39,377.35 70.59,381.30 70.59,383.67 71.39,387.62 72.19,389.20 72.99,389.99 74.59,390.78M76.19,390.78 77.79,389.99 78.59,389.20 79.39,387.62 80.19,383.67 80.19,381.30 79.39,377.35 78.59,375.77 77.79,374.98 76.19,374.19M87.39,389.20 86.59,389.99 87.39,390.78 88.19,389.99 87.39,389.20M96.19,377.35 97.79,376.56 100.19,374.19 100.19,390.78M99.39,374.98 99.39,390.78M96.19,390.78 103.39,390.78" fill="none" stroke="#000" stroke-width="1.22" stroke-linecap="round" stroke-linejoin="round"/>
<path d="M58.99,510.74 56.59,511.53 54.99,513.90 54.19,517.85 54.19,520.22 54.99,524.17 56.59,526.54 58.99,527.33 60.59,527.33 62.99,526.54 64.59,524.17 65.39,520.22 65.39,517.85 64.59,513.90 62.99,511.53 60.59,510.74 58.99,510.74M58.99,510.74 57.39,511.53 56.59,512.32 55.79,513.90 54.99,517.85 54.99,520.22 55.79,524.17 56.59,525.75 57.39,526.54 58.99,527.33M60.59,527.33 62.19,526.54 62.99,525.75 63.79,524.17 64.59,520.22 64.59,517.85 63.79,513.90 62.99,512.32 62.19,511.53 60.59,510.74M71.79,525.75 70.99,526.54 71.79,527.33 72.59,526.54 71.79,525.75M82.99,510.74 80.59,511.53 78.99,513.90 78.19,517.85 78.19,520.22 78.99,524.17 80.59,526.54 82.99,527.33 84.59,527.33 86.99,526.54 88.59,524.17 89.39,520.22 89.39,517.85 88.59,513.90 86.99,511.53 84.59,510.74 82.99,510.74M82.99,510.74 81.39,511.53 80.59,512.32 79.79,513.90 78.99,517.85 78.99,520.22 79.79,524.17 80.59,525.75 81.39,526.54 82.99,527.33M84.59,527.33 86.19,526.54 86.99,525.75 87.79,524.17 88.59,520.22 88.59,517.85 87.79,513.90 86.99,512.32 86.19,511.53 84.59,510.74M95.79,510.74 94.19,518.63M94.19,518.63 95.79,517.06 98.19,516.27 100.59,516.27 102.99,517.06 104.59,518.63 105.39,521.00 105.39,522.59 104.59,524.96 102.99,526.54 100.59,527.33 98.19,527.33 95.79,526.54 94.99,525.75 94.19,524.17 94.19,523.38 94.99,522.59 95.79,523.38 94.99,524.17M100.59,516.27 102.19,517.06 103.79,518.63 104.59,521.00 104.59,522.59 103.79,524.96 102.19,526.54 100.59,527.33M95.79,510.74 103.79,510.74M95.79,511.53 99.79,511.53 103.79,510.74" fill="none" stroke="#000" stroke-width="1.22" stroke-linecap="round" stroke-linejoin="round"/>
<path d="M98.99,647.28 96.59,648.08 94.99,650.45 94.19,654.39 94.19,656.76 94.99,660.72 96.59,663.09 98.99,663.88 100.59,663.88 102.99,663.09 104.59,660.72 105.39,656.76 105.39,654.39 104.59,650.45 102.99,648.08 100.59,647.28 98.99,647.28M98.99,647.28 97.39,648.08 96.59,648.87 95.79,650.45 94.99,654.39 94.99,656.76 95.79,660.72 96.59,662.29 97.39,663.09 98.99,663.88M100.59,663.88 102.19,663.09 102.99,662.29 103.79,660.72 104.59,656.76 104.59,654.39 103.79,650.45 102.99,648.87 102.19,648.08 100.59,647.28" fill="none" stroke="#000" stroke-width="1.22" stroke-linecap="round" stroke-linejoin="round"/>
<path d="M121.20,724.51 118.80,725.30 117.20,727.67 116.40,731.62 116.40,733.99 117.20,737.94 118.80,740.31 121.20,741.10 122.80,741.10 125.20,740.31 126.80,737.94 127.60,733.99 127.60,731.62 126.80,727.67 125.20,725.30 122.80,724.51 121.20,724.51M121.20,724.51 119.60,725.30 118.80,726.09 118.00,727.67 117.20,731.62 117.20,733.99 118.00,737.94 118.80,739.52 119.60,740.31 121.20,741.10M122.80,741.10 124.40,740.31 125.20,739.52 126.00,737.94 126.80,733.99 126.80,731.62 126.00,727.67 125.20,726.09 124.40,725.30 122.80,724.51" fill="none" stroke="#000" stroke-width="1.22" stroke-linecap="round" stroke-linejoin="round"/>
<path d="M218.62,727.67 219.42,728.46 218.62,729.25 217.82,728.46 217.82,727.67 218.62,726.09 219.42,725.30 221.82,724.51 225.02,724.51 227.42,725.30 228.22,726.09 229.02,727.67 229.02,729.25 228.22,730.83 225.82,732.41 221.82,733.99 220.22,734.78 218.62,736.36 217.82,738.73 217.82,741.10M225.02,724.51 226.62,725.30 227.42,726.09 228.22,727.67 228.22,729.25 227.42,730.83 225.02,732.41 221.82,733.99M217.82,739.52 218.62,738.73 220.22,738.73 224.22,740.31 226.62,740.31 228.22,739.52 229.02,738.73M220.22,738.73 224.22,741.10 227.42,741.10 228.22,740.31 229.02,738.73 229.02,737.15M238.62,724.51 236.22,725.30 234.62,727.67 233.82,731.62 233.82,733.99 234.62,737.94 236.22,740.31 238.62,741.10 240.22,741.10 242.62,740.31 244.22,737.94 245.02,733.99 245.02,731.62 244.22,727.67 242.62,725.30 240.22,724.51 238.62,724.51M238.62,724.51 237.02,725.30 236.22,726.09 235.42,727.67 234.62,731.62 234.62,733.99 235.42,737.94 236.22,739.52 237.02,740.31 238.62,741.10M240.22,741.10 241.82,740.31 242.62,739.52 243.42,737.94 244.22,733.99 244.22,731.62 243.42,727.67 242.62,726.09 241.82,725.30 240.22,724.51M254.62,724.51 252.22,725.30 250.62,727.67 249.82,731.62 249.82,733.99 250.62,737.94 252.22,740.31 254.62,741.10 256.22,741.10 258.62,740.31 260.22,737.94 261.02,733.99 261.02,731.62 260.22,727.67 258.62,725.30 256.22,724.51 254.62,724.51M254.62,724.51 253.02,725.30 252.22,726.09 251.42,727.67 250.62,731.62 250.62,733.99 251.42,737.94 252.22,739.52 253.02,740.31 254.62,741.10M256.22,741.10 257.82,740.31 258.62,739.52 259.42,737.94 260.22,733.99 260.22,731.62 259.42,727.67 258.62,726.09 257.82,725.30 256.22,724.51" fill="none" stroke="#000" stroke-width="1.22" stroke-linecap="round" stroke-linejoin="round"/>
<path d="M342.83,726.09 342.83,741.10M343.63,724.51 343.63,741.10M343.63,724.51 334.83,736.36 347.63,736.36M340.43,741.10 346.03,741.10M356.43,724.51 354.03,725.30 352.43,727.67 351.63,731.62 351.63,733.99 352.43,737.94 354.03,740.31 356.43,741.10 358.03,741.10 360.43,740.31 362.03,737.94 362.83,733.99 362.83,731.62 362.03,727.67 360.43,725.30 358.03,724.51 356.43,724.51M356.43,724.51 354.83,725.30 354.03,726.09 353.23,727.67 352.43,731.62 352.43,733.99 353.23,737.94 354.03,739.52 354.83,740.31 356.43,741.10M358.03,741.10 359.63,740.31 360.43,739.52 361.23,737.94 362.03,733.99 362.03,731.62 361.23,727.67 360.43,726.09 359.63,725.30 358.03,724.51M372.43,724.51 370.03,725.30 368.43,727.67 367.63,731.62 367.63,733.99 368.43,737.94 370.03,740.31 372.43,741.10 374.03,741.10 376.43,740.31 378.03,737.94 378.83,733.99 378.83,731.62 378.03,727.67 376.43,725.30 374.03,724.51 372.43,724.51M372.43,724.51 370.83,725.30 370.03,726.09 369.23,727.67 368.43,731.62 368.43,733.99 369.23,737.94 370.03,739.52 370.83,740.31 372.43,741.10M374.03,741.10 375.63,740.31 376.43,739.52 377.23,737.94 378.03,733.99 378.03,731.62 377.23,727.67 376.43,726.09 375.63,725.30 374.03,724.51" fill="none" stroke="#000" stroke-width="1.22" stroke-linecap="round" stroke-linejoin="round"/>
<path d="M473.45,724.51 471.05,725.30 469.45,727.67 468.65,731.62 468.65,733.99 469.45,737.94 471.05,740.31 473.45,741.10 475.05,741.10 477.45,740.31 479.05,737.94 479.85,733.99 479.85,731.62 479.05,727.67 477.45,725.30 475.05,724.51 473.45,724.51M473.45,724.51 471.85,725.30 471.05,726.09 470.25,727.67 469.45,731.62 469.45,733.99 470.25,737.94 471.05,739.52 471.85,740.31 473.45,741.10M475.05,741.10 476.65,740.31 477.45,739.52 478.25,737.94 479.05,733.99 479.05,731.62 478.25,727.67 477.45,726.09 476.65,725.30 475.05,724.51" fill="none" stroke="#000" stroke-width="1.22" stroke-linecap="round" stroke-linejoin="round"/>
<path d="M570.87,727.67 571.67,728.46 570.87,729.25 570.07,728.46 570.07,727.67 570.87,726.09 571.67,725.30 574.07,724.51 577.27,724.51 579.67,725.30 580.47,726.09 581.27,727.67 581.27,729.25 580.47,730.83 578.07,732.41 574.07,733.99 572.47,734.78 570.87,736.36 570.07,738.73 570.07,741.10M577.27,724.51 578.87,725.30 579.67,726.09 580.47,727.67 580.47,729.25 579.67,730.83 577.27,732.41 574.07,733.99M570.07,739.52 570.87,738.73 572.47,738.73 576.47,740.31 578.87,740.31 580.47,739.52 581.27,738.73M572.47,738.73 576.47,741.10 579.67,741.10 580.47,740.31 581.27,738.73 581.27,737.15M590.87,724.51 588.47,725.30 586.87,727.67 586.07,731.62 586.07,733.99 586.87,737.94 588.47,740.31 590.87,741.10 592.47,741.10 594.87,740.31 596.47,737.94 597.27,733.99 597.27,731.62 596.47,727.67 594.87,725.30 592.47,724.51 590.87,724.51M590.87,724.51 589.27,725.30 588.47,726.09 587.67,727.67 586.87,731.62 586.87,733.99 587.67,737.94 588.47,739.52 589.27,740.31 590.87,741.10M592.47,741.10 594.07,740.31 594.87,739.52 595.67,737.94 596.47,733.99 596.47,731.62 595.67,727.67 594.87,726.09 594.07,725.30 592.47,724.51M606.87,724.51 604.47,725.30 602.87,727.67 602.07,731.62 602.07,733.99 602.87,737.94 604.47,740.31 606.87,741.10 608.47,741.10 610.87,740.31 612.47,737.94 613.27,733.99 613.27,731.62 612.47,727.67 610.87,725.30 608.47,724.51 606.87,724.51M606.87,724.51 605.27,725.30 604.47,726.09 603.67,727.67 602.87,731.62 602.87,733.99 603.67,737.94 604.47,739.52 605.27,740.31 606.87,741.10M608.47,741.10 610.07,740.31 610.87,739.52 611.67,737.94 612.47,733.99 612.47,731.62 611.67,727.67 610.87,726.09 610.07,725.30 608.47,724.51" fill="none" stroke="#000" stroke-width="1.22" stroke-linecap="round" stroke-linejoin="round"/>
<path d="M695.08,726.09 695.08,741.10M695.88,724.51 695.88,741.10M695.88,724.51 687.08,736.36 699.88,736.36M692.68,741.10 698.28,741.10M708.68,724.51 706.28,725.30 704.68,727.67 703.88,731.62 703.88,733.99 704.68,737.94 706.28,740.31 708.68,741.10 710.28,741.10 712.68,740.31 714.28,737.94 715.08,733.99 715.08,731.62 714.28,727.67 712.68,725.30 710.28,724.51 708.68,724.51M708.68,724.51 707.08,725.30 706.28,726.09 705.48,727.67 704.68,731.62 704.68,733.99 705.48,737.94 706.28,739.52 707.08,740.31 708.68,741.10M710.28,741.10 711.88,740.31 712.68,739.52 713.48,737.94 714.28,733.99 714.28,731.62 713.48,727.67 712.68,726.09 711.88,725.30 710.28,724.51M724.68,724.51 722.28,725.30 720.68,727.67 719.88,731.62 719.88,733.99 720.68,737.94 722.28,740.31 724.68,741.10 726.28,741.10 728.68,740.31 730.28,737.94 731.08,733.99 731.08,731.62 730.28,727.67 728.68,725.30 726.28,724.51 724.68,724.51M724.68,724.51 723.08,725.30 722.28,726.09 721.48,727.67 720.68,731.62 720.68,733.99 721.48,737.94 722.28,739.52 723.08,740.31 724.68,741.10M726.28,741.10 727.88,740.31 728.68,739.52 729.48,737.94 730.28,733.99 730.28,731.62 729.48,727.67 728.68,726.09 727.88,725.30 726.28,724.51" fill="none" stroke="#000" stroke-width="1.22" stroke-linecap="round" stroke-linejoin="round"/>
<path d="M408.98,766.13 402.66,782.20M408.98,766.13 415.30,782.20M408.98,768.43 414.51,782.20M403.45,781.44 414.51,781.44M402.66,782.20 415.30,782.20" fill="none" stroke="#000" stroke-width="1.22" stroke-linecap="round" stroke-linejoin="round"/>
<path d="M419.20,771.49 423.67,782.20M419.94,771.49 423.67,780.67M428.14,771.49 423.67,782.20M417.71,771.49 422.18,771.49M425.16,771.49 429.63,771.49" fill="none" stroke="#000" stroke-width="1.22" stroke-linecap="round" stroke-linejoin="round"/>
<path d="M433.0,778.4V792.3M436.95,778.4V792.3" stroke="#000" stroke-width="1.22" stroke-linecap="round" fill="none"/>
<path d="M459.64,763.08 458.06,764.61 456.48,766.90 454.90,769.96 454.11,773.79 454.11,776.85 454.90,780.67 456.48,783.73 458.06,786.03 459.64,787.56M458.06,764.61 456.48,767.67 455.69,769.96 454.90,773.79 454.90,776.85 455.69,780.67 456.48,782.97 458.06,786.03M465.96,766.13 465.96,782.20M466.75,766.13 466.75,782.20M474.65,771.49 466.75,779.14M470.70,776.08 475.44,782.20M469.91,776.08 474.65,782.20M463.59,766.13 466.75,766.13M472.28,771.49 477.02,771.49M463.59,782.20 469.12,782.20M472.28,782.20 477.02,782.20M482.55,771.49 482.55,782.20M483.34,771.49 483.34,782.20M483.34,773.79 484.92,772.25 487.29,771.49 488.87,771.49 491.24,772.25 492.03,773.79 492.03,782.20M488.87,771.49 490.45,772.25 491.24,773.79 491.24,782.20M492.03,773.79 493.61,772.25 495.98,771.49 497.56,771.49 499.93,772.25 500.72,773.79 500.72,782.20M497.56,771.49 499.14,772.25 499.93,773.79 499.93,782.20M480.18,771.49 483.34,771.49M480.18,782.20 485.71,782.20M488.87,782.20 494.40,782.20M497.56,782.20 503.09,782.20M520.47,763.08 506.25,787.56M532.32,773.02 533.11,771.49 533.11,774.55 532.32,773.02 531.53,772.25 529.95,771.49 526.79,771.49 525.21,772.25 524.42,773.02 524.42,774.55 525.21,775.32 526.79,776.08 530.74,777.61 532.32,778.38 533.11,779.14M524.42,773.79 525.21,774.55 526.79,775.32 530.74,776.85 532.32,777.61 533.11,778.38 533.11,780.67 532.32,781.44 530.74,782.20 527.58,782.20 526.00,781.44 525.21,780.67 524.42,779.14 524.42,782.20 525.21,780.67M537.85,763.08 539.43,764.61 541.01,766.90 542.59,769.96 543.38,773.79 543.38,776.85 542.59,780.67 541.01,783.73 539.43,786.03 537.85,787.56M539.43,764.61 541.01,767.67 541.80,769.96 542.59,773.79 542.59,776.85 541.80,780.67 541.01,782.97 539.43,786.03" fill="none" stroke="#000" stroke-width="1.22" stroke-linecap="round" stroke-linejoin="round"/>
<g transform="translate(24.5,0) rotate(-90)">
<path d="M-397.25,-16.07 -398.78,-15.30 -399.55,-14.54 -399.55,-13.77 -398.78,-13.01 -396.48,-12.24 -394.17,-12.24M-396.48,-12.24 -399.55,-11.47 -401.09,-10.71 -401.85,-9.18 -401.85,-7.65 -400.32,-6.12 -398.01,-5.36 -395.71,-5.36M-396.48,-12.24 -398.78,-11.47 -400.32,-10.71 -401.09,-9.18 -401.09,-7.65 -399.55,-6.12 -398.01,-5.36M-398.01,-5.36 -401.09,-4.59 -402.62,-3.83 -403.39,-2.29 -403.39,-0.77 -401.85,0.77 -398.01,2.29 -397.25,3.06 -397.25,4.59 -398.78,5.36 -400.32,5.36M-398.01,-5.36 -400.32,-4.59 -401.85,-3.83 -402.62,-2.29 -402.62,-0.77 -401.09,0.77 -398.01,2.29" fill="none" stroke="#000" stroke-width="1.22" stroke-linecap="round" stroke-linejoin="round"/>
<path d="M-384.11,-19.12 -385.65,-17.59 -387.19,-15.30 -388.72,-12.24 -389.49,-8.42 -389.49,-5.36 -388.72,-1.53 -387.19,1.53 -385.65,3.83 -384.11,5.36M-385.65,-17.59 -387.19,-14.54 -387.95,-12.24 -388.72,-8.42 -388.72,-5.36 -387.95,-1.53 -387.19,0.77 -385.65,3.83" fill="none" stroke="#000" stroke-width="1.22" stroke-linecap="round" stroke-linejoin="round"/>
<path d="M-372.97,-16.07 -375.49,-15.30 -377.17,-13.01 -378.01,-11.47 -378.85,-9.18 -379.69,-5.36 -379.69,-2.29 -378.85,-0.77 -377.17,0.00 -375.49,0.00 -372.97,-0.77 -371.29,-3.06 -370.45,-4.59 -369.61,-6.88 -368.77,-10.71 -368.77,-13.77 -369.61,-15.30 -371.29,-16.07 -372.97,-16.07M-372.97,-16.07 -374.65,-15.30 -376.33,-13.01 -377.17,-11.47 -378.01,-9.18 -378.85,-5.36 -378.85,-2.29 -378.01,-0.77 -377.17,0.00M-375.49,0.00 -373.81,-0.77 -372.13,-3.06 -371.29,-4.59 -370.45,-6.88 -369.61,-10.71 -369.61,-13.77 -370.45,-15.30 -371.29,-16.07M-378.01,-8.42 -370.45,-8.42" fill="none" stroke="#000" stroke-width="1.22" stroke-linecap="round" stroke-linejoin="round"/>
<path d="M-362.72,0.00 -363.49,-0.77 -362.72,-1.53 -361.95,-0.77 -361.95,0.77 -362.72,2.29 -363.49,3.06" fill="none" stroke="#000" stroke-width="1.22" stroke-linecap="round" stroke-linejoin="round"/>
<path d="M-351.05,-16.07 -357.19,0.00M-351.05,-16.07 -344.90,0.00M-351.05,-13.77 -345.67,0.00M-356.42,-0.77 -345.67,-0.77M-357.19,0.00 -344.90,0.00" fill="none" stroke="#000" stroke-width="1.22" stroke-linecap="round" stroke-linejoin="round"/>
<path d="M-339.80,-10.71 -335.33,0.00M-339.06,-10.71 -335.33,-1.53M-330.86,-10.71 -335.33,0.00M-341.29,-10.71 -336.82,-10.71M-333.84,-10.71 -329.37,-10.71" fill="none" stroke="#000" stroke-width="1.22" stroke-linecap="round" stroke-linejoin="round"/>
<path d="M-326.5,-3.6000000000000014V11.0M-322.5,-3.6000000000000014V11.0" stroke="#000" stroke-width="1.22" stroke-linecap="round" fill="none"/>
<path d="M-318.59,-19.12 -317.05,-17.59 -315.52,-15.30 -313.98,-12.24 -313.21,-8.42 -313.21,-5.36 -313.98,-1.53 -315.52,1.53 -317.05,3.83 -318.59,5.36M-317.05,-17.59 -315.52,-14.54 -314.75,-12.24 -313.98,-8.42 -313.98,-5.36 -314.75,-1.53 -315.52,0.77 -317.05,3.83" fill="none" stroke="#000" stroke-width="1.22" stroke-linecap="round" stroke-linejoin="round"/>
</g>
</svg></body></html>
